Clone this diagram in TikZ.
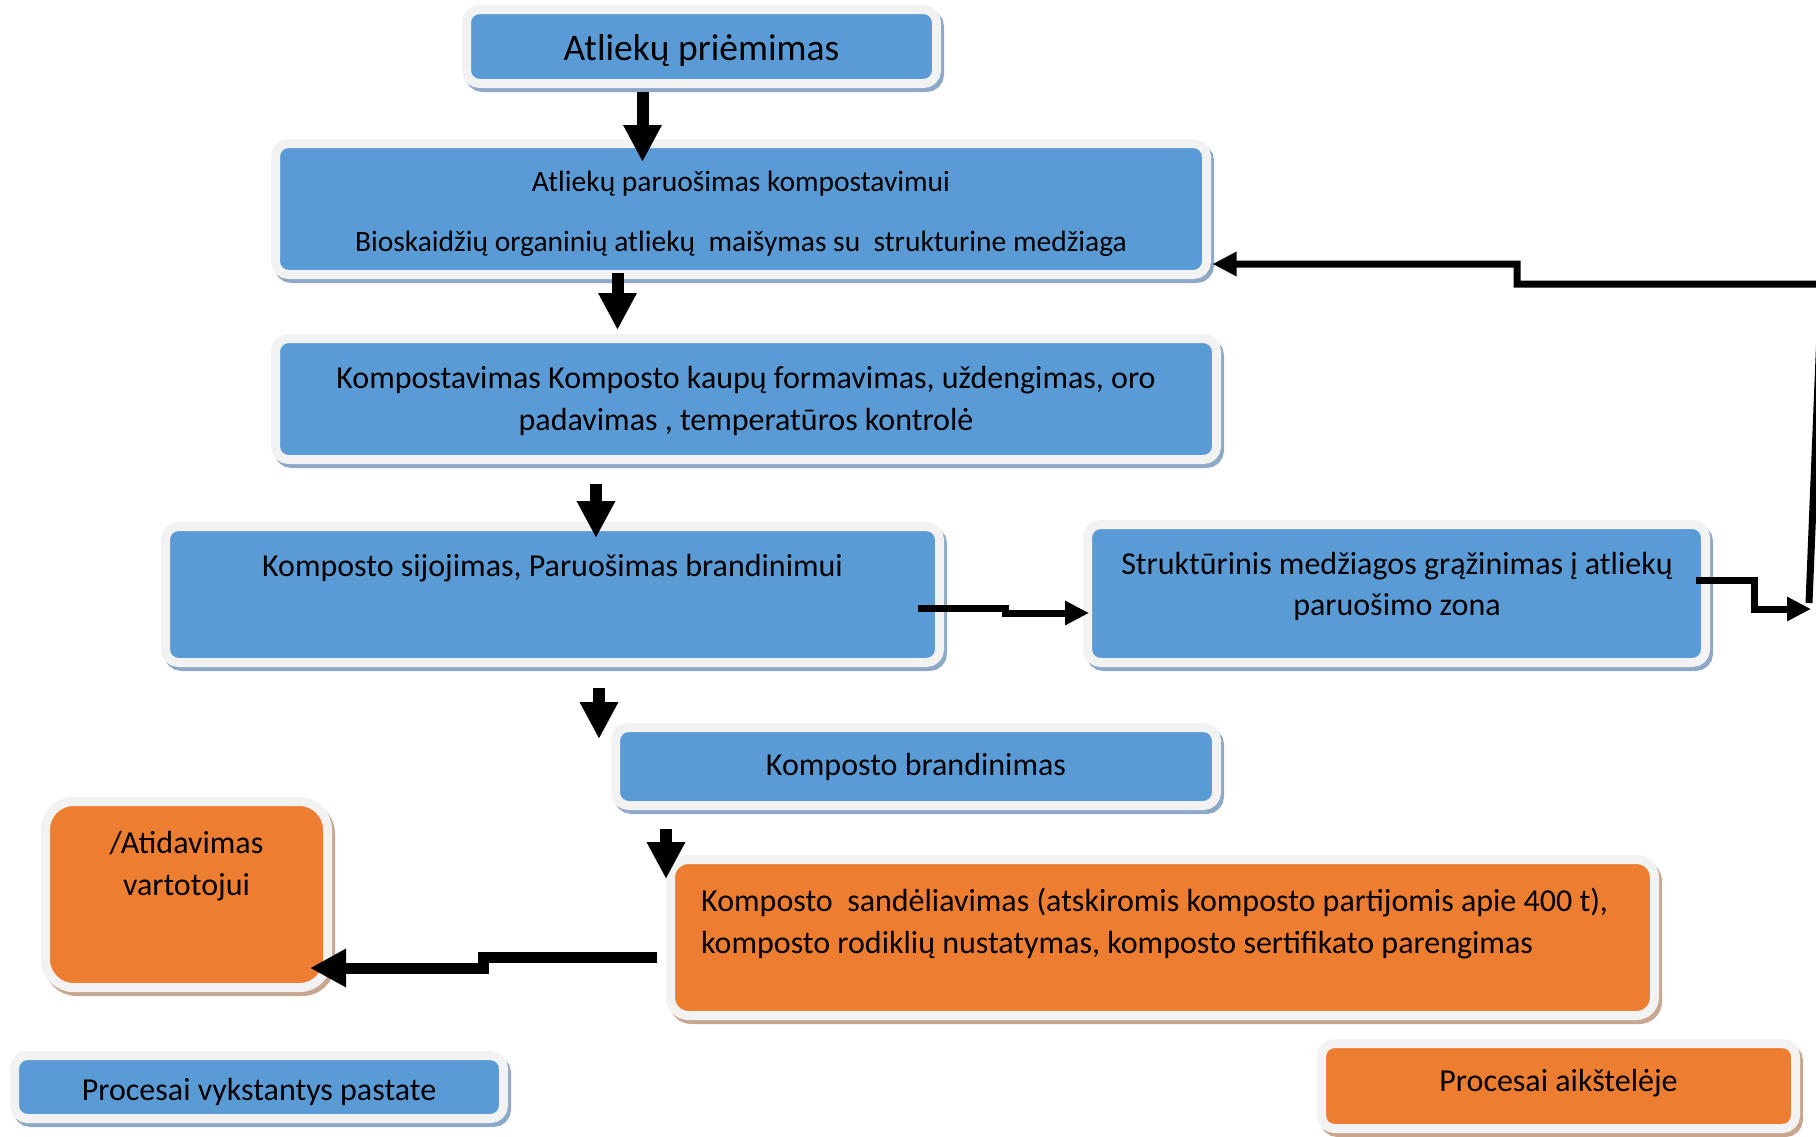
\documentclass[tikz,border=0pt]{standalone}
\usepackage{fontspec}
\setmainfont{Carlito}
\usetikzlibrary{arrows.meta,calc}
\definecolor{bfill}{HTML}{5B9BD5}
\definecolor{ofill}{HTML}{ED7D31}
\definecolor{rim}{HTML}{F2F2F2}
\definecolor{bshadow}{HTML}{8EA8C7}
\definecolor{oshadow}{HTML}{C8A690}
\tikzset{
  box/.style={draw=rim, line width=9pt, rounded corners=13pt, inner sep=0pt, outer sep=0pt},
  bluebox/.style={box, fill=bfill,
    preaction={draw=bshadow, fill=bshadow, line width=9pt, transform canvas={xshift=3pt,yshift=-4pt}}},
  orangebox/.style={box, fill=ofill,
    preaction={draw=oshadow, fill=oshadow, line width=9pt, transform canvas={xshift=3pt,yshift=-4pt}}},
  txt/.style={anchor=base, inner sep=0pt, font=\fontsize{32}{38}\selectfont},
  txtl/.style={txt, anchor=base west},
  blockarr/.style={line width=12pt, -{Triangle[width=36pt,length=37pt]}},
  midarr/.style={line width=11pt, -{Triangle[width=36pt,length=36pt]}},
  thinarr/.style={line width=7pt, -{Triangle[width=23pt,length=24pt]}}
}
\begin{document}
\begin{tikzpicture}[x=1pt,y=-1pt]
\useasboundingbox (0,0) rectangle (1816,1136);
% boxes
\node[bluebox, minimum width=470pt, minimum height=74pt] (a) at (701.5,46.5) {};
\node[bluebox, minimum width=931pt, minimum height=131pt] (b) at (741,209) {};
\node[bluebox, minimum width=941pt, minimum height=121pt] (c) at (746,399) {};
\node[bluebox, minimum width=774pt, minimum height=136pt] (d) at (552.5,594.5) {};
\node[bluebox, minimum width=618pt, minimum height=138pt] (e) at (1396.5,593.5) {};
\node[bluebox, minimum width=601pt, minimum height=78pt] (f) at (916,766.5) {};
\node[orangebox, rounded corners=28pt, minimum width=282pt, minimum height=186pt] (g) at (186.5,894.5) {};
\node[orangebox, rounded corners=18pt, minimum width=984pt, minimum height=156pt] (h) at (1162.5,937.5) {};
\node[bluebox, minimum width=489pt, minimum height=63pt] (i) at (259,1087) {};
\node[orangebox, minimum width=474pt, minimum height=85pt] (j) at (1558.5,1086) {};
% texts
\node[txt, font=\fontsize{37.5}{44}\selectfont] (ta) at (701.5,60) {Atliekų priėmimas};
\node[txt, font=\fontsize{29.5}{35}\selectfont] (tb1) at (741,191) {Atliekų paruošimas kompostavimui};
\node[txt, font=\fontsize{29.5}{35}\selectfont] (tb2) at (741,251) {Bioskaidžių organinių atliekų~ maišymas su~ strukturine medžiaga};
\node[txt] (tc1) at (746,388) {Kompostavimas Komposto kaupų formavimas, uždengimas, oro};
\node[txt] (tc2) at (746,430) {padavimas , temperatūros kontrolė};
\node[txt] (td) at (552.5,576) {Komposto sijojimas, Paruošimas brandinimui};
\node[txt] (te1) at (1397,574) {Struktūrinis medžiagos grąžinimas į atliekų};
\node[txt] (te2) at (1397,615) {paruošimo zona};
\node[txt] (tf) at (916,775) {Komposto brandinimas};
\node[txt] (tg1) at (186.5,853) {/Atidavimas};
\node[txt] (tg2) at (186.5,895) {vartotojui};
\node[txtl] (th1) at (701,911) {Komposto~ sandėliavimas (atskiromis komposto partijomis apie 400 t),};
\node[txtl] (th2) at (701,953) {komposto rodiklių nustatymas, komposto sertifikato parengimas};
\node[txt] (ti) at (259,1100) {Procesai vykstantys pastate};
\node[txt] (tj) at (1558.5,1091) {Procesai aikštelėje};
% free ends at the right edge
\coordinate (ret) at (1811,609);
\coordinate (fb) at (1809,603);
% down arrows
\draw[blockarr] ($(a.south)+(-59,8.5)$) -- ($(b.north)+(-98.5,18.5)$);
\draw[blockarr] ($(b.south)+(-123.5,-1.5)$) -- ($(c.north)+(-128.5,-8.5)$);
\draw[blockarr] ($(c.south)+(-150,24.5)$) -- ($(d.north)+(43.5,11.5)$);
\draw[blockarr] ($(d.south)+(46.5,25.5)$) -- ($(f.north west)+(-16.5,11.5)$);
\draw[blockarr] ($(f.south west)+(50.5,23.5)$) -- ($(h.north west)+(-4.5,19.5)$);
% side connectors
\draw[thinarr] ($(d.east)+(-22,13.5)$) -- (1005,608) -- (1005,613) -- ($(e.west)+(1.5,19.5)$);
\draw[thinarr] ($(e.east)+(-9.5,-13.5)$) -- (1754,580) -- (1754,609) -- (ret);
\draw[thinarr] (fb) -- (1822,284) -- (1517,284) -- (1517,264) -- ($(b.east)+(6,55)$);
\draw[midarr] ($(h.west)+(-13.5,19.5)$) -- (483.5,957) -- (483.5,968) -- ($(g.east)+(-17.5,73.5)$);
\end{tikzpicture}
\end{document}
